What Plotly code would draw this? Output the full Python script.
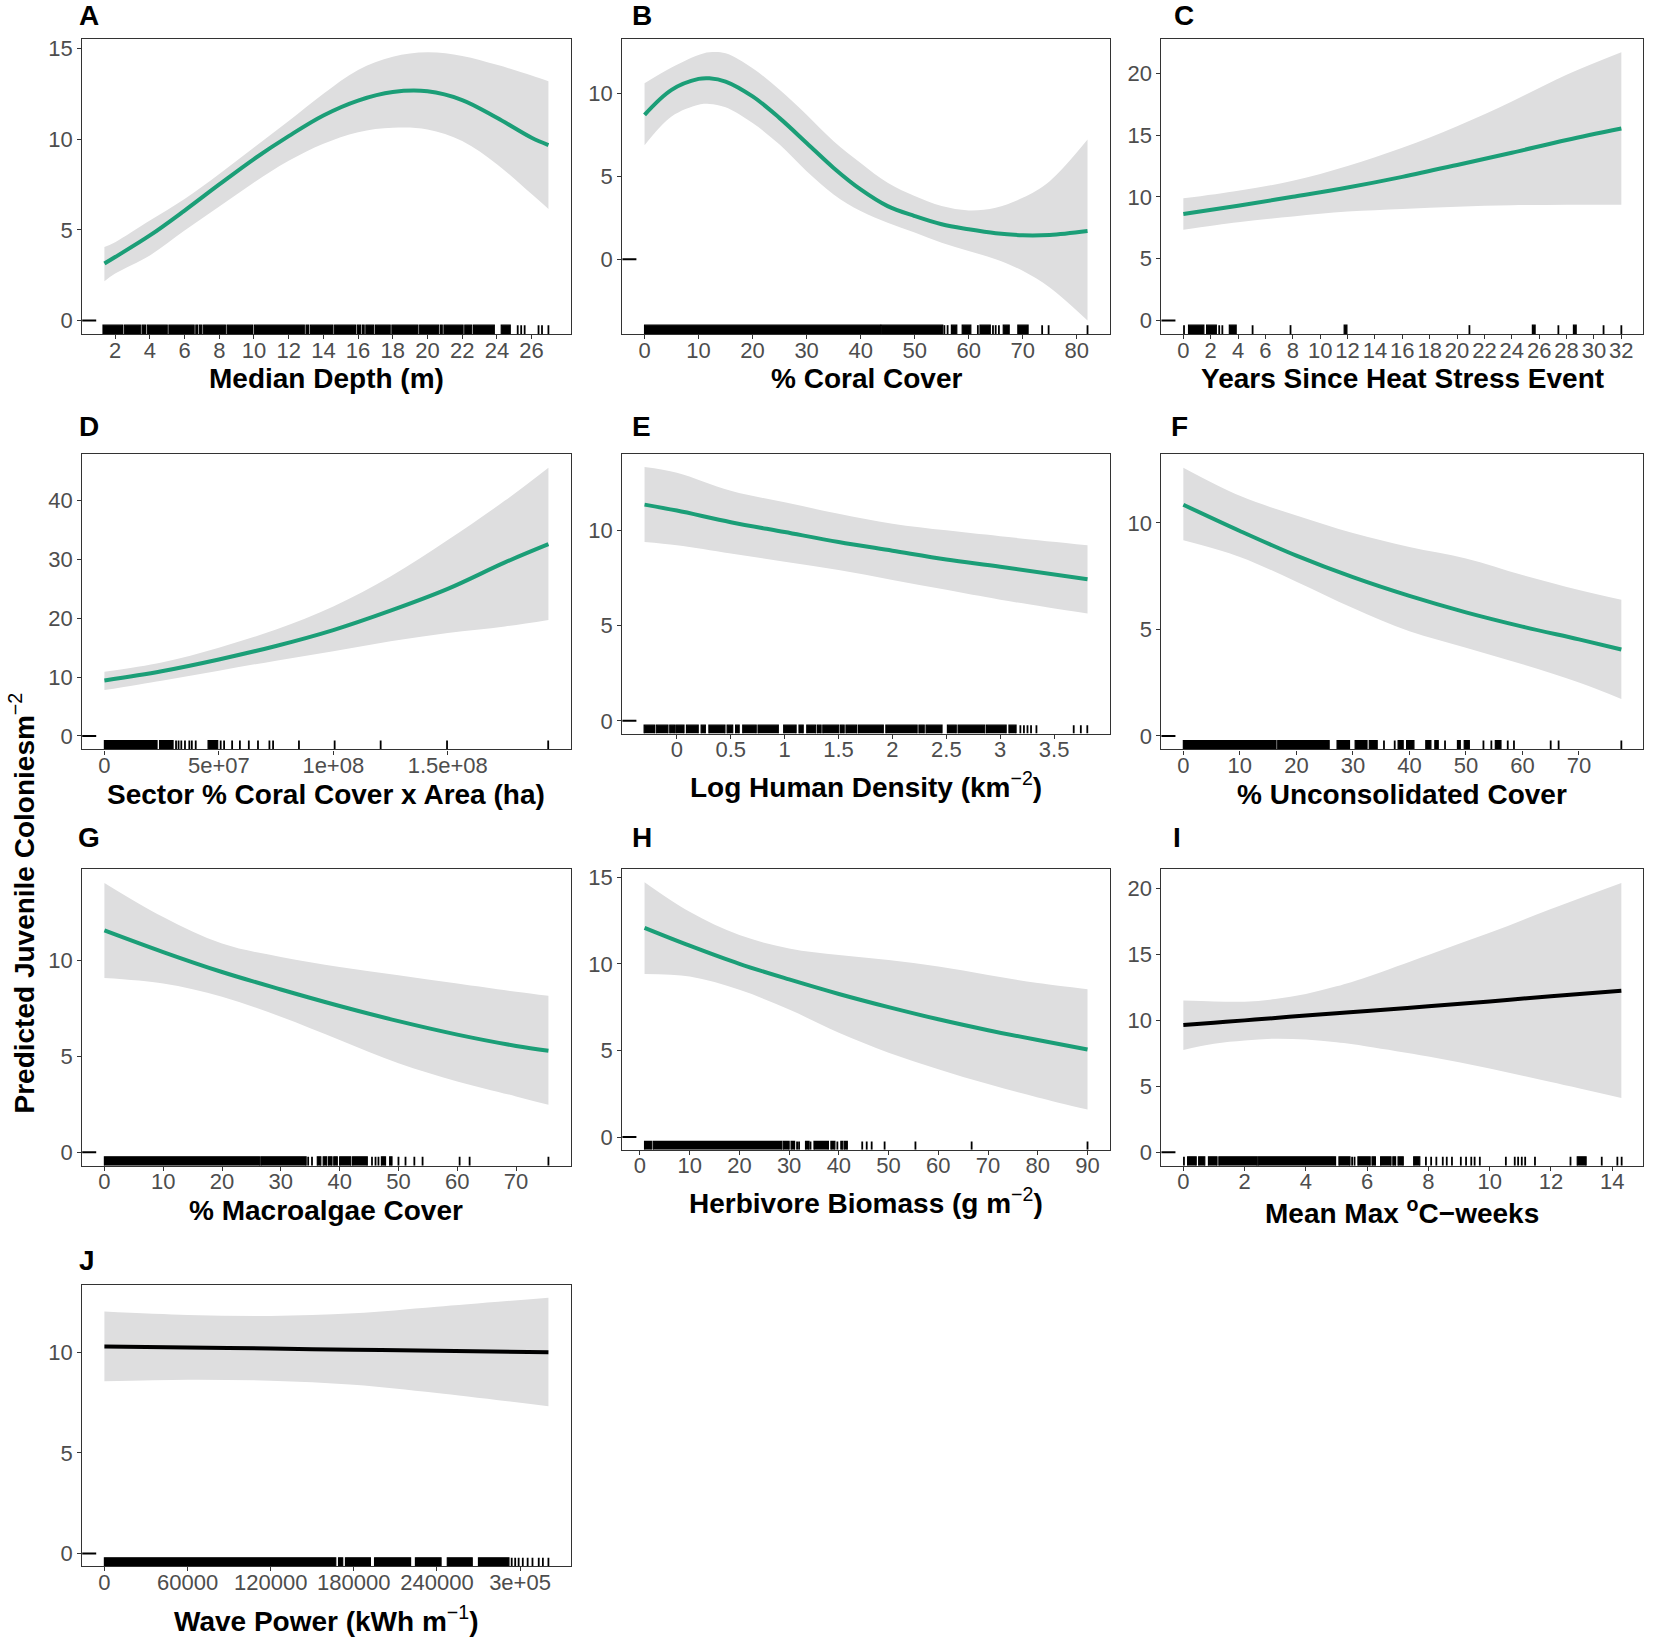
import plotly.graph_objects as go

# ---------------- data ----------------
# A  Median depth
depth_x = [1.38, 2, 4, 6, 8, 10, 12, 14, 16, 18, 20, 22, 24, 26, 26.97]
depth_fit = [3.14, 3.50, 4.69, 6.06, 7.50, 8.90, 10.16, 11.30, 12.12, 12.59, 12.63, 12.15, 11.17, 10.07, 9.67]
depth_hi = [4.05, 4.32, 5.51, 6.70, 8.07, 9.53, 10.99, 12.50, 13.81, 14.54, 14.78, 14.58, 14.09, 13.50, 13.18]
depth_lo = [2.17, 2.59, 3.59, 4.96, 6.28, 7.61, 8.80, 9.74, 10.38, 10.62, 10.53, 9.89, 8.61, 6.97, 6.15]
depth_rug_blocks = [(1.3, 2.42), (2.52, 3.45), (3.55, 3.75), (3.85, 5.0), (5.1, 6.55), (6.65, 6.75), (6.85, 7.0),
                    (7.1, 8.35), (8.45, 9.92), (10.02, 12.9), (13.0, 13.15), (13.25, 14.55), (14.65, 15.85),
                    (15.95, 16.15), (16.25, 16.35), (16.45, 16.9), (17.0, 17.85), (17.95, 19.45), (19.55, 20.65),
                    (20.75, 20.85), (20.95, 22.05), (22.15, 22.55), (22.65, 23.85), (24.25, 24.77)]
depth_rug_ticks = [25.2, 25.4, 25.6, 26.4, 26.6, 26.97]
depth_ticks = [2, 4, 6, 8, 10, 12, 14, 16, 18, 20, 22, 24, 26]

# B  % coral cover
coral_x = [0, 5, 10, 12, 15, 20, 25, 30, 35, 40, 45, 50, 55, 60, 65, 70, 75, 82]
coral_fit = [8.73, 10.24, 10.90, 10.94, 10.74, 9.84, 8.53, 7.03, 5.52, 4.22, 3.21, 2.61, 2.11, 1.81, 1.57, 1.45, 1.47, 1.71]
coral_hi = [10.64, 11.59, 12.35, 12.51, 12.45, 11.55, 10.24, 8.73, 7.13, 5.82, 4.62, 3.82, 3.21, 2.95, 3.11, 3.71, 4.72, 7.23]
coral_lo = [6.89, 8.63, 9.34, 9.38, 9.18, 8.23, 6.93, 5.32, 3.92, 2.91, 2.21, 1.61, 1.00, 0.50, 0.00, -0.70, -1.71, -3.71]
coral_rug_blocks = [(0, 43.7), (43.8, 55.2), (56.8, 57.8), (58.8, 60.4), (62.1, 64.0), (66.4, 67.5), (69.1, 71.0)]
coral_rug_ticks = [55.5, 56.1, 61.7, 64.5, 65.0, 65.6, 73.6, 74.8, 82.0]
coral_ticks = [0, 10, 20, 30, 40, 50, 60, 70, 80]

# C  years since heat stress
heat_x = [0, 4, 8, 12, 16, 20, 24, 28, 32]
heat_fit = [8.62, 9.29, 10.01, 10.76, 11.62, 12.58, 13.57, 14.60, 15.53]
heat_hi = [9.88, 10.50, 11.30, 12.50, 13.98, 15.72, 17.72, 19.87, 21.69]
heat_lo = [7.34, 7.95, 8.41, 8.81, 9.02, 9.21, 9.32, 9.37, 9.37]
heat_rug_blocks = [(0.38, 1.5), (1.7, 2.41), (3.36, 3.86), (11.75, 11.95), (25.5, 25.7), (28.5, 28.7)]
heat_rug_ticks = [0.05, 2.62, 2.85, 5.06, 7.83, 20.9, 27.4, 30.7, 32.0]
heat_ticks = list(range(0, 33, 2))

# D  sector % coral cover x area
sector_x = [0, 2.5e7, 5e7, 7.5e7, 1e8, 1.25e8, 1.5e8, 1.75e8, 1.94e8]
sector_fit = [9.44, 11.0, 13.0, 15.3, 18.0, 21.3, 25.0, 29.5, 32.6]
sector_hi = [10.9, 12.5, 15.0, 18.1, 22.0, 27.1, 33.3, 40.0, 45.6]
sector_lo = [7.8, 9.4, 11.1, 12.8, 14.4, 16.1, 17.5, 18.6, 19.7]
sector_rug_blocks = [(0, 2.3e7), (2.41e7, 3.0e7), (4.53e7, 4.95e7)]
sector_rug_ticks = [3.13e7, 3.24e7, 3.36e7, 3.52e7, 3.71e7, 3.82e7, 3.99e7, 5.08e7, 5.23e7, 5.58e7, 5.92e7,
                    6.31e7, 6.71e7, 7.21e7, 7.37e7, 8.5e7, 1.006e8, 1.207e8, 1.497e8, 1.939e8]
sector_ticks = [0, 5e7, 1e8, 1.5e8]
sector_ticktext = ["0", "5e+07", "1e+08", "1.5e+08"]

# E  log human density
human_x = [-0.30, 0, 0.5, 1, 1.5, 2, 2.5, 3, 3.81]
human_fit = [11.35, 11.04, 10.43, 9.91, 9.39, 8.93, 8.47, 8.09, 7.43]
human_hi = [13.33, 13.03, 12.08, 11.47, 10.87, 10.35, 10.0, 9.69, 9.22]
human_lo = [9.39, 9.22, 8.79, 8.35, 7.92, 7.40, 6.88, 6.36, 5.63]
human_rug_blocks = [(-0.304, -0.208), (-0.192, -0.083), (-0.066, -0.023), (-0.01, 0.066), (0.089, 0.198),
                    (0.225, 0.264), (0.297, 0.446), (0.466, 0.518), (0.545, 0.578), (0.611, 0.736),
                    (0.753, 0.941), (0.991, 1.106), (1.133, 1.172), (1.205, 1.288), (1.304, 1.338),
                    (1.354, 1.503), (1.519, 1.552), (1.569, 1.668), (1.684, 1.915), (1.939, 2.229),
                    (2.246, 2.295), (2.312, 2.46), (2.51, 2.592), (2.609, 2.857), (2.873, 3.055), (3.081, 3.147)]
human_rug_ticks = [3.187, 3.22, 3.253, 3.286, 3.336, 3.682, 3.748, 3.808]
human_ticks = [0, 0.5, 1, 1.5, 2, 2.5, 3, 3.5]
human_ticktext = ["0", "0.5", "1", "1.5", "2", "2.5", "3", "3.5"]

# F  % unconsolidated cover
uncon_x = [0, 10, 20, 30, 40, 50, 60, 70, 77.5]
uncon_fit = [10.85, 9.62, 8.46, 7.45, 6.57, 5.80, 5.13, 4.53, 4.06]
uncon_hi = [12.59, 11.27, 10.34, 9.52, 8.87, 8.33, 7.55, 6.85, 6.39]
uncon_lo = [9.18, 8.40, 7.24, 6.00, 4.91, 4.14, 3.36, 2.51, 1.74]
uncon_rug_blocks = [(0, 16.4), (16.7, 25.8), (27.2, 29.4), (30.4, 32.5), (32.9, 34.3), (38.0, 38.9),
                    (39.5, 40.8), (42.9, 43.8), (44.5, 45.1), (48.5, 49.0), (49.7, 50.6), (55.2, 56.2)]
uncon_rug_ticks = [35.5, 37.4, 46.3, 53.1, 54.5, 57.4, 58.5, 65.0, 66.4, 77.5]
uncon_ticks = [0, 10, 20, 30, 40, 50, 60, 70]

# G  % macroalgae cover
macro_x = [0, 10, 20, 30, 40, 50, 60, 70, 75.5]
macro_fit = [11.56, 10.43, 9.39, 8.48, 7.62, 6.83, 6.13, 5.54, 5.29]
macro_hi = [14.03, 12.25, 10.87, 10.17, 9.65, 9.22, 8.79, 8.36, 8.15]
macro_lo = [9.08, 8.79, 8.10, 7.06, 5.85, 4.64, 3.69, 2.91, 2.47]
macro_rug_blocks = [(0, 26.4), (26.6, 34.3), (36.2, 36.8), (37.2, 37.8), (38.1, 38.7), (39.0, 39.6),
                    (40.0, 41.9), (42.2, 44.7), (47.1, 47.8), (48.5, 48.9)]
macro_rug_ticks = [34.65, 35.3, 45.5, 46.1, 46.6, 50.0, 51.2, 52.7, 54.1, 60.4, 62.1, 75.5]
macro_ticks = [0, 10, 20, 30, 40, 50, 60, 70]

# H  herbivore biomass
herb_x = [0.93, 10, 20, 30, 40, 50, 60, 70, 80, 90]
herb_fit = [12.08, 11.05, 10.00, 9.10, 8.26, 7.50, 6.80, 6.17, 5.60, 5.06]
herb_hi = [14.71, 13.0, 11.66, 10.89, 10.51, 10.22, 9.84, 9.36, 8.89, 8.54]
herb_lo = [9.42, 9.27, 8.50, 7.36, 6.02, 4.87, 3.92, 3.06, 2.29, 1.59]
herb_rug_blocks = [(0.93, 2.3), (2.65, 28.5), (28.8, 30.0), (30.4, 31.1), (33.3, 34.0), (35.0, 37.9),
                   (38.4, 39.2), (40.4, 40.8), (41.1, 41.7)]
herb_rug_ticks = [31.6, 32.0, 34.3, 39.7, 44.7, 45.6, 46.6, 49.2, 55.4, 66.7, 90.0]
herb_ticks = [0, 10, 20, 30, 40, 50, 60, 70, 80, 90]

# I  mean max degree-heating weeks
dhw_x = [0, 1, 2, 3, 4, 5, 6, 8, 10, 12, 14.3]
dhw_fit = [9.65, 9.83, 10.01, 10.19, 10.38, 10.55, 10.73, 11.08, 11.45, 11.84, 12.25]
dhw_hi = [11.51, 11.45, 11.43, 11.63, 12.02, 12.59, 13.31, 14.98, 16.65, 18.46, 20.44]
dhw_lo = [7.77, 8.24, 8.49, 8.62, 8.55, 8.34, 8.03, 7.26, 6.36, 5.33, 4.12]
dhw_rug_blocks = [(0.14, 0.42), (0.5, 0.7), (0.82, 1.1), (1.16, 2.41), (2.44, 4.97), (5.08, 5.44), (5.7, 6.1),
                  (6.16, 6.27), (6.44, 6.78), (6.84, 6.93), (7.01, 7.18), (7.52, 7.72), (12.86, 13.15)]
dhw_rug_ticks = [0.02, 5.51, 5.59, 7.92, 8.09, 8.26, 8.47, 8.6, 8.77, 9.06, 9.23, 9.4, 9.51, 9.68,
                 10.53, 10.82, 10.93, 11.05, 11.16, 11.48, 12.64, 13.66, 14.17, 14.31]
dhw_ticks = [0, 2, 4, 6, 8, 10, 12, 14]

# J  wave power
wave_x = [0, 60000, 120000, 180000, 240000, 320500]
wave_fit = [10.28, 10.23, 10.18, 10.12, 10.07, 10.00]
wave_hi = [12.02, 11.85, 11.80, 11.93, 12.26, 12.71]
wave_lo = [8.55, 8.63, 8.58, 8.38, 7.97, 7.31]
wave_rug_blocks = [(0, 167000), (169000, 172000), (174000, 192000), (195000, 221000), (224500, 243000),
                   (247500, 265500), (270000, 292000)]
wave_rug_ticks = [294000, 296500, 299000, 302000, 305500, 309000, 313500, 316500, 320500]
wave_ticks = [0, 60000, 120000, 180000, 240000, 300000]
wave_ticktext = ["0", "60000", "120000", "180000", "240000", "3e+05"]

# ---------------- styling ----------------
GREEN = "#1B9E77"
BLACK = "#000000"
RIBBON = "rgb(222,222,223)"
FONT = "Liberation Sans, Arial, Helvetica, sans-serif"
W, H = 1654, 1641
UP = 0.0025  # small vertical adjustment of the whole grid

col_dom = [(0.0497, 0.3450), (0.3763, 0.6709), (0.7022, 0.9935)]
row_top = [0.0232, 0.2771, 0.5309, 0.7848]
row_bot = [0.2036, 0.4575, 0.7120, 0.9568]

panels = [
    dict(letter="A", x=depth_x, fit=depth_fit, hi=depth_hi, lo=depth_lo, blocks=depth_rug_blocks, ticks=depth_rug_ticks,
         xt=depth_ticks, xtt=None, yt=[0, 5, 10, 15], title="<b>Median Depth (m)</b>", color=GREEN,
         col=0, row=0, bot=None, tshift=-45, lpos=(0.0536, 0.9910)),
    dict(letter="B", x=coral_x, fit=coral_fit, hi=coral_hi, lo=coral_lo, blocks=coral_rug_blocks, ticks=coral_rug_ticks,
         xt=coral_ticks, xtt=None, yt=[0, 5, 10], title="<b>% Coral Cover</b>", color=GREEN,
         col=1, row=0, bot=None, tshift=-45, lpos=(0.3884, 0.9910)),
    dict(letter="C", x=heat_x, fit=heat_fit, hi=heat_hi, lo=heat_lo, blocks=heat_rug_blocks, ticks=heat_rug_ticks,
         xt=heat_ticks, xtt=None, yt=[0, 5, 10, 15, 20], title="<b>Years Since Heat Stress Event</b>", color=GREEN,
         col=2, row=0, bot=None, tshift=-45, lpos=(0.7156, 0.9910)),
    dict(letter="D", x=sector_x, fit=sector_fit, hi=sector_hi, lo=sector_lo, blocks=sector_rug_blocks, ticks=sector_rug_ticks,
         xt=sector_ticks, xtt=sector_ticktext, yt=[0, 10, 20, 30, 40], title="<b>Sector % Coral Cover x Area (ha)</b>",
         color=GREEN, col=0, row=1, bot=None, tshift=-45, lpos=(0.0536, 0.7397)),
    dict(letter="E", x=human_x, fit=human_fit, hi=human_hi, lo=human_lo, blocks=human_rug_blocks, ticks=human_rug_ticks,
         xt=human_ticks, xtt=human_ticktext, yt=[0, 5, 10],
         title="<b>Log Human Density (km</b><sup>−2</sup><b>)</b>", color=GREEN,
         col=1, row=1, bot=0.4478, tshift=-51, lpos=(0.3878, 0.7397)),
    dict(letter="F", x=uncon_x, fit=uncon_fit, hi=uncon_hi, lo=uncon_lo, blocks=uncon_rug_blocks, ticks=uncon_rug_ticks,
         xt=uncon_ticks, xtt=None, yt=[0, 5, 10], title="<b>% Unconsolidated Cover</b>", color=GREEN,
         col=2, row=1, bot=None, tshift=-45, lpos=(0.7130, 0.7397)),
    dict(letter="G", x=macro_x, fit=macro_fit, hi=macro_hi, lo=macro_lo, blocks=macro_rug_blocks, ticks=macro_rug_ticks,
         xt=macro_ticks, xtt=None, yt=[0, 5, 10], title="<b>% Macroalgae Cover</b>", color=GREEN,
         col=0, row=2, bot=None, tshift=-45, lpos=(0.0536, 0.4884)),
    dict(letter="H", x=herb_x, fit=herb_fit, hi=herb_hi, lo=herb_lo, blocks=herb_rug_blocks, ticks=herb_rug_ticks,
         xt=herb_ticks, xtt=None, yt=[0, 5, 10, 15], title="<b>Herbivore Biomass (g m</b><sup>−2</sup><b>)</b>",
         color=GREEN, col=1, row=2, bot=0.7023, tshift=-51, lpos=(0.3884, 0.4884)),
    dict(letter="I", x=dhw_x, fit=dhw_fit, hi=dhw_hi, lo=dhw_lo, blocks=dhw_rug_blocks, ticks=dhw_rug_ticks,
         xt=dhw_ticks, xtt=None, yt=[0, 5, 10, 15, 20], title="<b>Mean Max </b><sup><b>o</b></sup><b>C−weeks</b>",
         color=BLACK, col=2, row=2, bot=None, tshift=-45, lpos=(0.7117, 0.4884)),
    dict(letter="J", x=wave_x, fit=wave_fit, hi=wave_hi, lo=wave_lo, blocks=wave_rug_blocks, ticks=wave_rug_ticks,
         xt=wave_ticks, xtt=wave_ticktext, yt=[0, 5, 10], title="<b>Wave Power (kWh m</b><sup>−1</sup><b>)</b>",
         color=BLACK, col=0, row=3, bot=None, tshift=-53, lpos=(0.0523, 0.2301)),
]

fig = go.Figure()
layout = dict(width=W, height=H, margin=dict(l=0, r=0, t=0, b=0), paper_bgcolor="white",
              plot_bgcolor="white", showlegend=False, font=dict(family=FONT))
annotations = []
shapes = []

for i, p in enumerate(panels, start=1):
    xid = "x" if i == 1 else f"x{i}"
    yid = "y" if i == 1 else f"y{i}"
    xs = p["x"]
    x0, x1 = min(xs), max(xs)
    xr = [x0 - 0.05 * (x1 - x0), x1 + 0.05 * (x1 - x0)]
    ylo = min(0, min(p["lo"]))
    yhi = max(p["hi"])
    yspan = yhi - ylo
    yr = [ylo - 0.05 * yspan, yhi + 0.05 * yspan]
    rug_top = yr[0] + 0.03 * (yr[1] - yr[0])

    # ribbon
    fig.add_trace(go.Scatter(x=xs, y=p["lo"], mode="lines", line=dict(width=0, shape="spline", smoothing=1.0),
                             xaxis=xid, yaxis=yid, hoverinfo="skip"))
    fig.add_trace(go.Scatter(x=xs, y=p["hi"], mode="lines", line=dict(width=0, shape="spline", smoothing=1.0),
                             fill="tonexty", fillcolor=RIBBON, xaxis=xid, yaxis=yid, hoverinfo="skip"))
    # fitted line
    fig.add_trace(go.Scatter(x=xs, y=p["fit"], mode="lines",
                             line=dict(color=p["color"], width=4, shape="spline", smoothing=1.0),
                             xaxis=xid, yaxis=yid))
    # rug blocks
    bx, by = [], []
    for a, b in p["blocks"]:
        bx += [a, a, b, b, None]
        by += [yr[0], rug_top, rug_top, yr[0], None]
    fig.add_trace(go.Scatter(x=bx, y=by, mode="lines", fill="toself", fillcolor="black",
                             line=dict(color="black", width=1.2), xaxis=xid, yaxis=yid, hoverinfo="skip"))
    # rug ticks
    tx, ty = [], []
    for v in p["ticks"]:
        tx += [v, v, None]
        ty += [yr[0], rug_top, None]
    fig.add_trace(go.Scatter(x=tx, y=ty, mode="lines", line=dict(color="black", width=1.8),
                             xaxis=xid, yaxis=yid, hoverinfo="skip"))

    cd = col_dom[p["col"]]
    top = row_top[p["row"]] - UP
    bot = (p["bot"] if p["bot"] is not None else row_bot[p["row"]]) - UP
    axis_common = dict(showgrid=False, zeroline=False, showline=True, mirror=True, linecolor="#333333",
                       linewidth=1.3, ticks="outside", ticklen=4, tickwidth=1.2, tickcolor="#333333",
                       tickfont=dict(family=FONT, size=22, color="#4D4D4D"), fixedrange=True)
    xa = dict(axis_common, domain=list(cd), range=xr, anchor=yid, tickmode="array", tickvals=p["xt"],
              ticklabelstandoff=-8)
    if p["xtt"] is not None:
        xa["ticktext"] = p["xtt"]
    ya = dict(axis_common, domain=[1 - bot, 1 - top], range=yr, anchor=xid, tickmode="array", tickvals=p["yt"])
    layout["xaxis" if i == 1 else f"xaxis{i}"] = xa
    layout["yaxis" if i == 1 else f"yaxis{i}"] = ya

    # x-axis title
    annotations.append(dict(text=p["title"], xref=f"{xid} domain", yref=f"{yid} domain", x=0.5, y=0,
                            yshift=p["tshift"], xanchor="center", yanchor="middle", showarrow=False,
                            font=dict(family=FONT, size=28, color="black")))
    # panel letter
    annotations.append(dict(text=f"<b>{p['letter']}</b>", xref="paper", yref="paper", x=p["lpos"][0],
                            y=p["lpos"][1] + UP, xanchor="center", yanchor="middle", showarrow=False,
                            font=dict(family=FONT, size=28, color="black")))
    # short dash at y = 0 on the left border
    shapes.append(dict(type="line", xref=xid, yref=yid, xsizemode="pixel", xanchor=xr[0], x0=-4, x1=14,
                       y0=0, y1=0, line=dict(color="black", width=2)))

annotations.append(dict(text="<b>Predicted Juvenile Coloniesm</b><sup>−2</sup>", xref="paper", yref="paper",
                        x=0.0135, y=0.451, textangle=-90, xanchor="center", yanchor="middle", showarrow=False,
                        font=dict(family=FONT, size=28, color="black")))

layout["annotations"] = annotations
layout["shapes"] = shapes
fig.update_layout(**layout)
fig.write_html("out.html", config={"displayModeBar": False},
               post_script="document.body.style.margin='0';document.body.style.overflow='hidden';")
